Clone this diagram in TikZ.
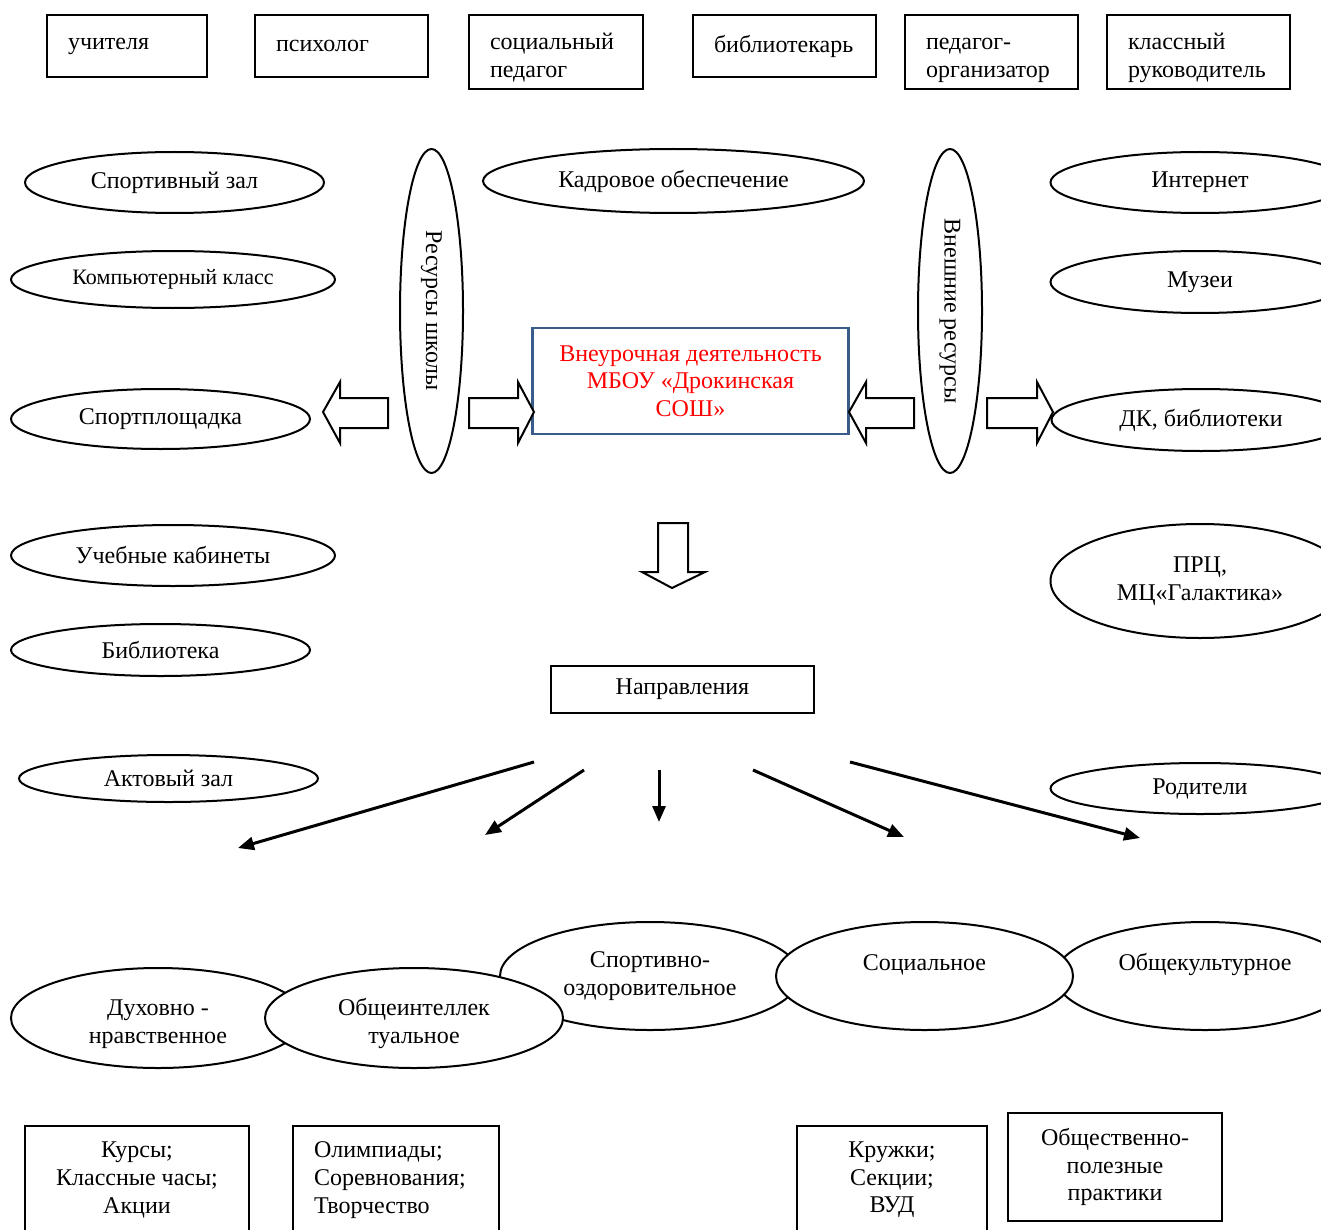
\documentclass[tikz,border=0pt]{standalone}
\usepackage{fontspec}
\setmainfont{Liberation Serif}
\usetikzlibrary{shapes.geometric,arrows.meta}
\definecolor{boxblue}{RGB}{56,93,138}
\newcommand{\toprule}{\rule{0pt}{14pt}}

\begin{document}
\begin{tikzpicture}[x=0.5pt, y=-0.5pt,
  every node/.style={font=\fontsize{12}{13.8}\selectfont},
  staff/.style={draw, line width=1pt, rectangle, align=left, inner xsep=10.5pt, minimum height=#1},
  res/.style={draw, line width=1pt, ellipse, inner sep=0pt, fill=white, align=center},
  dir/.style={draw, line width=1pt, ellipse, inner sep=0pt, fill=white, align=center},
  form/.style={draw, line width=1pt, rectangle, align=center, minimum height=54pt},
  blockarrow/.style={draw, line width=1pt, fill=white, line join=miter},
  link/.style={line width=1.5pt, -{Triangle[length=8pt,width=6.5pt]}}
]
\useasboundingbox (0,0) rectangle (1321,1230);
\clip (0,0) rectangle (1321,1230);

% staff
\node[staff=31pt, text width=59pt] (teach) at (127,46) {учителя};
\node[staff=31pt, text width=65.5pt] (psych) at (341.5,46) {психолог};
\node[staff=37pt, text width=66pt] (social) at (556,52) {\toprule социальный\\педагог};
\node[staff=31pt, text width=70.5pt] (librarian) at (784.5,46) {библиотекарь};
\node[staff=37pt, text width=65.5pt] (organizer) at (991.5,52) {\toprule педагог-\\организатор};
\node[staff=37pt, text width=70.5pt] (tutor) at (1198.5,52) {\toprule классный\\руководитель};

% school resources
\node[res, minimum width=149.5pt, minimum height=30.5pt] (gym) at (174.5,182.5) {Спортивный зал};
\node[res, minimum width=162pt, minimum height=28.5pt, font=\fontsize{11}{13}\selectfont] (comp) at (173,279.5) {Компьютерный класс};
\node[res, minimum width=149.5pt, minimum height=30pt] (field) at (160.5,419) {Спортплощадка};
\node[res, minimum width=162pt, minimum height=30.5pt] (cabinets) at (173,555.5) {Учебные кабинеты};
\node[res, minimum width=149.5pt, minimum height=26pt] (library) at (160.5,650) {Библиотека};
\node[res, minimum width=149.5pt, minimum height=23.5pt] (hall) at (168.5,778.5) {Актовый зал};

\node[res, rotate=-90, minimum width=162pt, minimum height=31.5pt] (school) at (431.5,311) {Ресурсы школы};
\node[res, minimum width=190.5pt, minimum height=32pt] (staffing) at (673.5,181) {Кадровое обеспечение};
\node[res, rotate=-90, minimum width=162pt, minimum height=32pt] (outer) at (950,311) {Внешние ресурсы};

% external resources
\node[res, minimum width=149.5pt, minimum height=30.5pt] (net) at (1200,182.5) {Интернет};
\node[res, minimum width=149.5pt, minimum height=31pt] (museum) at (1200,282) {Музеи};
\node[res, minimum width=149.5pt, minimum height=31pt] (dk) at (1201,420) {ДК, библиотеки};
\node[res, minimum width=149.5pt, minimum height=57pt] (prc) at (1200,581) {ПРЦ,\\МЦ«Галактика»};
\node[res, minimum width=149.5pt, minimum height=25.5pt] (parents) at (1200,788.5) {Родители};

% centre
\node[draw=boxblue, line width=1.4pt, rectangle, align=center, text=red,
  minimum width=158pt, minimum height=53pt] (main) at (690.5,381)
  {Внеурочная деятельность\\МБОУ «Дрокинская\\СОШ»};

\draw[blockarrow] (323,412) -- (340,382) -- (340,398) -- (388,398) -- (388,428) -- (340,428) -- (340,443) -- cycle;
\draw[blockarrow] (469,398) -- (518,398) -- (518,382) -- (534,412) -- (518,443) -- (518,428) -- (469,428) -- cycle;
\draw[blockarrow] (849,412) -- (866,382) -- (866,398) -- (914,398) -- (914,428) -- (866,428) -- (866,443) -- cycle;
\draw[blockarrow] (987,398) -- (1037,398) -- (1037,382) -- (1053,412) -- (1037,443) -- (1037,428) -- (987,428) -- cycle;
\draw[blockarrow] (658,523) -- (688,523) -- (688,572) -- (705,572) -- (672,588) -- (642,572) -- (658,572) -- cycle;

\node[draw, line width=1pt, rectangle, minimum width=131.5pt, minimum height=23.5pt] (dirs) at (682.5,689.5) {Направления};

% arrows to the directions
\coordinate (from1) at (534,762);  \coordinate (to1) at (238,848);
\coordinate (from2) at (584,770);  \coordinate (to2) at (485,835);
\coordinate (from3) at (659,770);  \coordinate (to3) at (659,822);
\coordinate (from4) at (753,770);  \coordinate (to4) at (904,837);
\coordinate (from5) at (850,762);  \coordinate (to5) at (1140,838);
\draw[link] (from1) -- (to1);
\draw[link] (from2) -- (to2);
\draw[link] (from3) -- (to3);
\draw[link] (from4) -- (to4);
\draw[link] (from5) -- (to5);

% directions
\node[dir, minimum width=150pt, minimum height=54pt] (sport) at (650,976) {Спортивно-\\оздоровительное};
\node[dir, minimum width=150pt, minimum height=54pt] (culture) at (1205,976) {Общекультурное\\~};
\node[dir, minimum width=147pt, minimum height=50pt] (moral) at (158,1018) {\toprule Духовно -\\нравственное};
\node[dir, minimum width=149pt, minimum height=50pt] (intel) at (414,1018) {\toprule Общеинтеллек\\туальное};
\node[dir, minimum width=148.5pt, minimum height=54pt] (socl) at (924.5,976) {Социальное\\~};

% forms
\node[form, minimum width=112pt] (courses) at (137,1180) {Курсы;\\Классные часы;\\Акции};
\node[form, align=left, inner xsep=10.5pt, text width=82pt] (olymp) at (396,1180) {Олимпиады;\\Соревнования;\\Творчество};
\node[form, minimum width=95pt] (clubs) at (892,1180) {Кружки;\\Секции;\\ВУД};
\node[form, minimum width=107pt] (practice) at (1115,1167) {Общественно-\\полезные\\практики};

\end{tikzpicture}
\end{document}
